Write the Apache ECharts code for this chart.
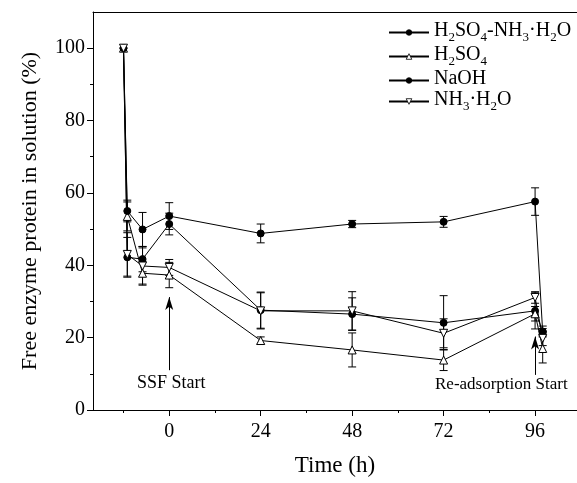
<!DOCTYPE html>
<html><head><meta charset="utf-8">
<script src="https://cdn.jsdelivr.net/npm/echarts@6/dist/echarts.min.js"></script>
<style>html,body{margin:0;padding:0;background:#fff}#c{width:577px;height:483px}</style>
</head><body><div id="c"></div>
<script>
// ---- data ----
const times = [-12, -11, -7, 0, 24, 48, 72, 96, 98];
const seriesNames = ['H2SO4-NH3·H2O', 'H2SO4', 'NaOH', 'NH3·H2O'];
const acidAmmonia = [100, 42.2, 41.7, 51.4, 27.6, 26.5, 24.1, 27.4, 21.7];
const acid        = [100, 53.5, 37.8, 37.3, 19.2, 16.6, 13.8, 26.6, 17.0];
const naoh        = [100, 55.0, 49.9, 53.6, 48.8, 51.4, 52.0, 57.6, 21.5];
const ammonia     = [100, 43.0, 39.8, 39.4, 27.4, 27.4, 21.2, 31.1, 19.8];
const acidAmmoniaErr = [0, 5.5, 3.5, 3.0, 5.0, 4.5, 7.5, 5.0, 1.5];
const acidErr        = [0, 4.0, 3.3, 3.5, 1.0, 4.7, 2.9, 2.0, 4.0];
const naohErr        = [0, 3.0, 4.7, 3.7, 2.6, 1.0, 1.5, 3.8, 1.0];
const ammoniaErr     = [0, 6.0, 5.0, 2.2, 5.0, 5.3, 4.0, 1.6, 2.0];
const xTickLabels = [0, 24, 48, 72, 96];
const xMinorTicks = [-12, 12, 36, 60, 84];
const yTickLabels = [0, 20, 40, 60, 80, 100];
const yMinorTicks = [10, 30, 50, 70, 90];
const annotations = [
  {text: 'SSF Start', time: 0, from: 11, to: 31.2},
  {text: 'Re-adsorption Start', time: 96, from: 9.7, to: 20.3}
];

const FONT = '"Liberation Serif", "Times New Roman", serif';
const X_MIN = -20, X_MAX = 107, Y_MIN = 0, Y_MAX = 110;

function pairs(vals) { return times.map((t, i) => [t, vals[i]]); }
function errData(vals, errs) {
  const out = [];
  times.forEach((t, i) => { if (errs[i] > 0) out.push([t, vals[i] - errs[i], vals[i] + errs[i]]); });
  return out;
}
function renderErr(params, api) {
  const x = api.value(0), lo = api.value(1), hi = api.value(2);
  const a = api.coord([x, hi]), b = api.coord([x, lo]);
  const w = 4;
  const st = {stroke: '#000', lineWidth: 1};
  return {type: 'group', children: [
    {type: 'line', shape: {x1: a[0], y1: a[1], x2: b[0], y2: b[1]}, style: st},
    {type: 'line', shape: {x1: a[0] - w, y1: a[1], x2: a[0] + w, y2: a[1]}, style: st},
    {type: 'line', shape: {x1: b[0] - w, y1: b[1], x2: b[0] + w, y2: b[1]}, style: st}
  ]};
}
function richName(name) {
  return name.split(/(\d)/).filter(s => s.length).map(s => /^\d$/.test(s) ? '{s|' + s + '}' : '{n|' + s + '}').join('');
}

const defs = [
  {name: seriesNames[0], vals: acidAmmonia, errs: acidAmmoniaErr, symbol: 'circle', size: 7, fill: '#000', rot: 0},
  {name: seriesNames[1], vals: acid, errs: acidErr, symbol: 'triangle', size: 8, fill: '#fff', rot: 0},
  {name: seriesNames[2], vals: naoh, errs: naohErr, symbol: 'circle', size: 7, fill: '#000', rot: 0},
  {name: seriesNames[3], vals: ammonia, errs: ammoniaErr, symbol: 'triangle', size: 8, fill: '#fff', rot: 180}
];

const series = [];
defs.forEach(d => {
  series.push({
    type: 'custom', name: d.name + ' err', renderItem: renderErr, data: errData(d.vals, d.errs),
    xAxisIndex: 0, yAxisIndex: 0, z: 1, silent: true
  });
});
defs.forEach(d => {
  series.push({
    type: 'line', name: d.name, data: pairs(d.vals), xAxisIndex: 0, yAxisIndex: 0, z: 3,
    symbol: d.symbol, symbolSize: d.size, symbolRotate: d.rot, showAllSymbol: true,
    lineStyle: {color: '#000', width: 1},
    itemStyle: {color: d.fill, borderColor: '#000', borderWidth: 1},
    emphasis: {disabled: true}
  });
});
// arrows for annotations
series.push({
  type: 'line', name: 'arrows', data: [], xAxisIndex: 0, yAxisIndex: 0,
  markLine: {
    silent: true, symbol: ['none', 'arrow'], symbolSize: [6, 13],
    lineStyle: {color: '#000', width: 1, type: 'solid'}, label: {show: false},
    data: annotations.map(a => [{coord: [a.time, a.from]}, {coord: [a.time, a.to]}])
  }
});

const chart = echarts.init(document.getElementById('c'), null, {renderer: 'canvas'});
chart.setOption({
  animation: false,
  backgroundColor: '#fff',
  grid: {left: 93, top: 12, width: 488, height: 398},
  legend: {
    data: seriesNames, orient: 'vertical', left: 383, top: 16, itemWidth: 40, itemHeight: 7, itemGap: 1,
    itemStyle: {borderWidth: 0.8},
    formatter: richName,
    textStyle: {
      fontFamily: FONT, color: '#000',
      rich: {
        n: {fontFamily: FONT, fontSize: 20, lineHeight: 23, verticalAlign: 'top', color: '#000'},
        s: {fontFamily: FONT, fontSize: 13, verticalAlign: 'bottom', padding: [10, 0, 0, 0], color: '#000'}
      }
    }
  },
  xAxis: [
    {type: 'value', min: X_MIN, max: X_MAX, position: 'bottom',
     name: 'Time (h)', nameLocation: 'middle', nameGap: 44,
     nameTextStyle: {fontFamily: FONT, fontSize: 23, color: '#000'},
     axisLine: {onZero: false, lineStyle: {color: '#000', width: 1}},
     axisTick: {show: true, inside: false, length: 6, customValues: xTickLabels, lineStyle: {color: '#000'}},
     axisLabel: {customValues: xTickLabels, margin: 12, fontFamily: FONT, fontSize: 20, color: '#000'},
     splitLine: {show: false}},
    {type: 'value', min: X_MIN, max: X_MAX, position: 'bottom',
     axisLine: {show: false, onZero: false},
     axisTick: {show: true, length: 3, customValues: xMinorTicks, lineStyle: {color: '#000'}},
     axisLabel: {show: false}, splitLine: {show: false}},
    {type: 'value', min: X_MIN, max: X_MAX, position: 'top',
     axisLine: {show: true, onZero: false, lineStyle: {color: '#000', width: 1}},
     axisTick: {show: false}, axisLabel: {show: false}, splitLine: {show: false}}
  ],
  yAxis: [
    {type: 'value', min: Y_MIN, max: Y_MAX, position: 'left',
     name: 'Free enzyme protein in solution (%)', nameLocation: 'middle', nameGap: 52,
     nameTextStyle: {fontFamily: FONT, fontSize: 22, color: '#000'},
     axisLine: {show: true, onZero: false, lineStyle: {color: '#000', width: 1}},
     axisTick: {show: true, length: 6, customValues: yTickLabels, lineStyle: {color: '#000'}},
     axisLabel: {customValues: yTickLabels, margin: 8, fontFamily: FONT, fontSize: 20, color: '#000'},
     splitLine: {show: false}},
    {type: 'value', min: Y_MIN, max: Y_MAX, position: 'left',
     axisLine: {show: false, onZero: false},
     axisTick: {show: true, length: 3, customValues: yMinorTicks, lineStyle: {color: '#000'}},
     axisLabel: {show: false}, splitLine: {show: false}}
  ],
  graphic: [
    {type: 'text', left: 137, top: 374, style: {text: annotations[0].text, font: '18px ' + FONT, fill: '#000'}},
    {type: 'text', left: 435, top: 376, style: {text: annotations[1].text, font: '17px ' + FONT, fill: '#000'}}
  ],
  series: series
});
</script>
</body></html>
